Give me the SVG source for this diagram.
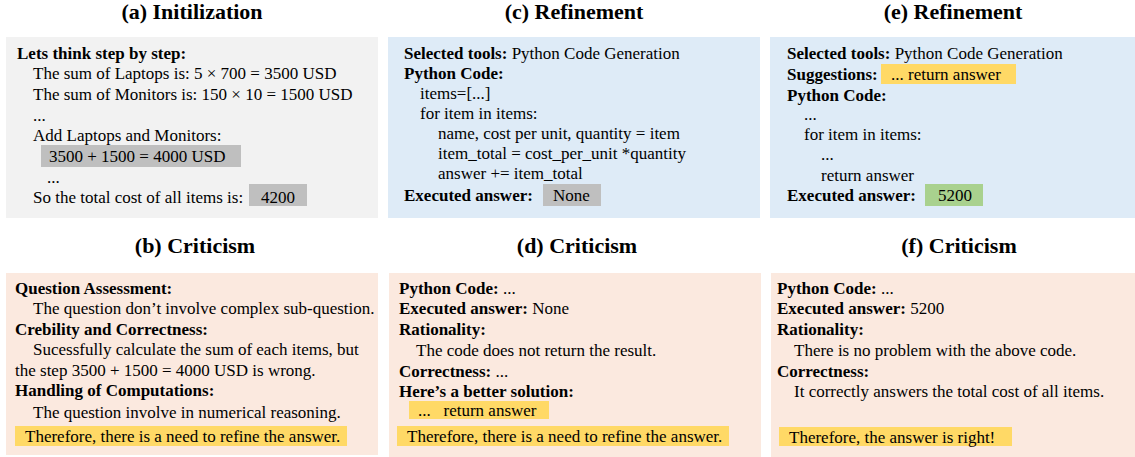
<svg xmlns="http://www.w3.org/2000/svg" width="1135" height="457" viewBox="0 0 1135 457">
<style>
text{font-family:"Liberation Serif","Times New Roman",serif;font-size:17px;fill:#000}
.t{font-size:22px;font-weight:bold;text-anchor:middle}
.b{font-weight:bold}
.gray{fill:#f2f2f2}
.blue{fill:#deebf7}
.pink{fill:#fbe9df}
.hg{fill:#bfbfbf}
.hy{fill:#ffd966}
.hgr{fill:#a9d18e}
</style>
<g id="panel-a">
<text class="t" x="192" y="19">(a) Initilization</text>
<rect class="gray" x="6" y="37" width="372" height="181"/>
<rect class="hg" x="41" y="145" width="200" height="22"/>
<rect class="hg" x="249" y="184" width="58" height="22"/>
<text class="b" x="17" y="59">Lets think step by step:</text>
<text x="33" y="79">The sum of Laptops is: 5 × 700 = 3500 USD</text>
<text x="33" y="100">The sum of Monitors is: 150 × 10 = 1500 USD</text>
<text x="33" y="121">...</text>
<text x="33" y="141">Add Laptops and Monitors:</text>
<text x="49" y="162">3500 + 1500 = 4000 USD</text>
<text x="47" y="183">...</text>
<text x="33" y="203">So the total cost of all items is:</text>
<text x="261" y="203">4200</text>
</g>
<g id="panel-c">
<text class="t" x="574" y="19">(c) Refinement</text>
<rect class="blue" x="388" y="37" width="372" height="181"/>
<rect class="hg" x="543" y="184" width="58" height="22"/>
<text x="404" y="59"><tspan class="b">Selected tools:</tspan> Python Code Generation</text>
<text class="b" x="404" y="79">Python Code:</text>
<text x="420" y="99">items=[...]</text>
<text x="420" y="119">for item in items:</text>
<text x="438" y="139">name, cost per unit, quantity = item</text>
<text x="438" y="159">item_total = cost_per_unit *quantity</text>
<text x="438" y="179">answer += item_total</text>
<text class="b" x="404" y="201">Executed answer:</text>
<text x="553" y="201">None</text>
</g>
<g id="panel-e">
<text class="t" x="953" y="19">(e) Refinement</text>
<rect class="blue" x="770" y="37" width="365" height="181"/>
<rect class="hy" x="881" y="64" width="135" height="20"/>
<rect class="hgr" x="925" y="184" width="58" height="22"/>
<text x="787" y="59"><tspan class="b">Selected tools:</tspan> Python Code Generation</text>
<text class="b" x="787" y="80">Suggestions:</text>
<text x="891" y="80">... return answer</text>
<text class="b" x="787" y="101">Python Code:</text>
<text x="804" y="120">...</text>
<text x="804" y="140">for item in items:</text>
<text x="821" y="160">...</text>
<text x="821" y="181">return answer</text>
<text class="b" x="787" y="201">Executed answer:</text>
<text x="938" y="201">5200</text>
</g>
<g id="panel-b">
<text class="t" x="195" y="253">(b) Criticism</text>
<rect class="pink" x="6" y="273" width="372" height="182"/>
<rect class="hy" x="15" y="426" width="332" height="20"/>
<text class="b" x="15" y="294">Question Assessment:</text>
<text x="33" y="314">The question don’t involve complex sub-question.</text>
<text class="b" x="15" y="335">Crebility and Correctness:</text>
<text x="33" y="355">Sucessfully calculate the sum of each items, but</text>
<text x="15" y="376">the step 3500 + 1500 = 4000 USD is wrong.</text>
<text class="b" x="15" y="396">Handling of Computations:</text>
<text x="33" y="418">The question involve in numerical reasoning.</text>
<text x="25" y="442">Therefore, there is a need to refine the answer.</text>
</g>
<g id="panel-d">
<text class="t" x="577" y="253">(d) Criticism</text>
<rect class="pink" x="389" y="273" width="372" height="184"/>
<rect class="hy" x="409" y="401" width="140" height="18"/>
<rect class="hy" x="397" y="426" width="332" height="20"/>
<text x="399" y="294"><tspan class="b">Python Code:</tspan> ...</text>
<text x="399" y="314"><tspan class="b">Executed answer:</tspan> None</text>
<text class="b" x="399" y="335">Rationality:</text>
<text x="416" y="356">The code does not return the result.</text>
<text x="399" y="377"><tspan class="b">Correctness:</tspan> ...</text>
<text class="b" x="399" y="397">Here’s a better solution:</text>
<text x="418" y="416" xml:space="preserve">...   return answer</text>
<text x="407" y="442">Therefore, there is a need to refine the answer.</text>
</g>
<g id="panel-f">
<text class="t" x="959" y="253">(f) Criticism</text>
<rect class="pink" x="771" y="273" width="364" height="184"/>
<rect class="hy" x="779" y="427" width="233" height="19"/>
<text x="777" y="294"><tspan class="b">Python Code:</tspan> ...</text>
<text x="777" y="314"><tspan class="b">Executed answer:</tspan> 5200</text>
<text class="b" x="777" y="335">Rationality:</text>
<text x="794" y="356">There is no problem with the above code.</text>
<text class="b" x="777" y="377">Correctness:</text>
<text x="794" y="397">It correctly answers the total cost of all items.</text>
<text x="789" y="443">Therefore, the answer is right!</text>
</g>
<g id="connectors"/>
</svg>
